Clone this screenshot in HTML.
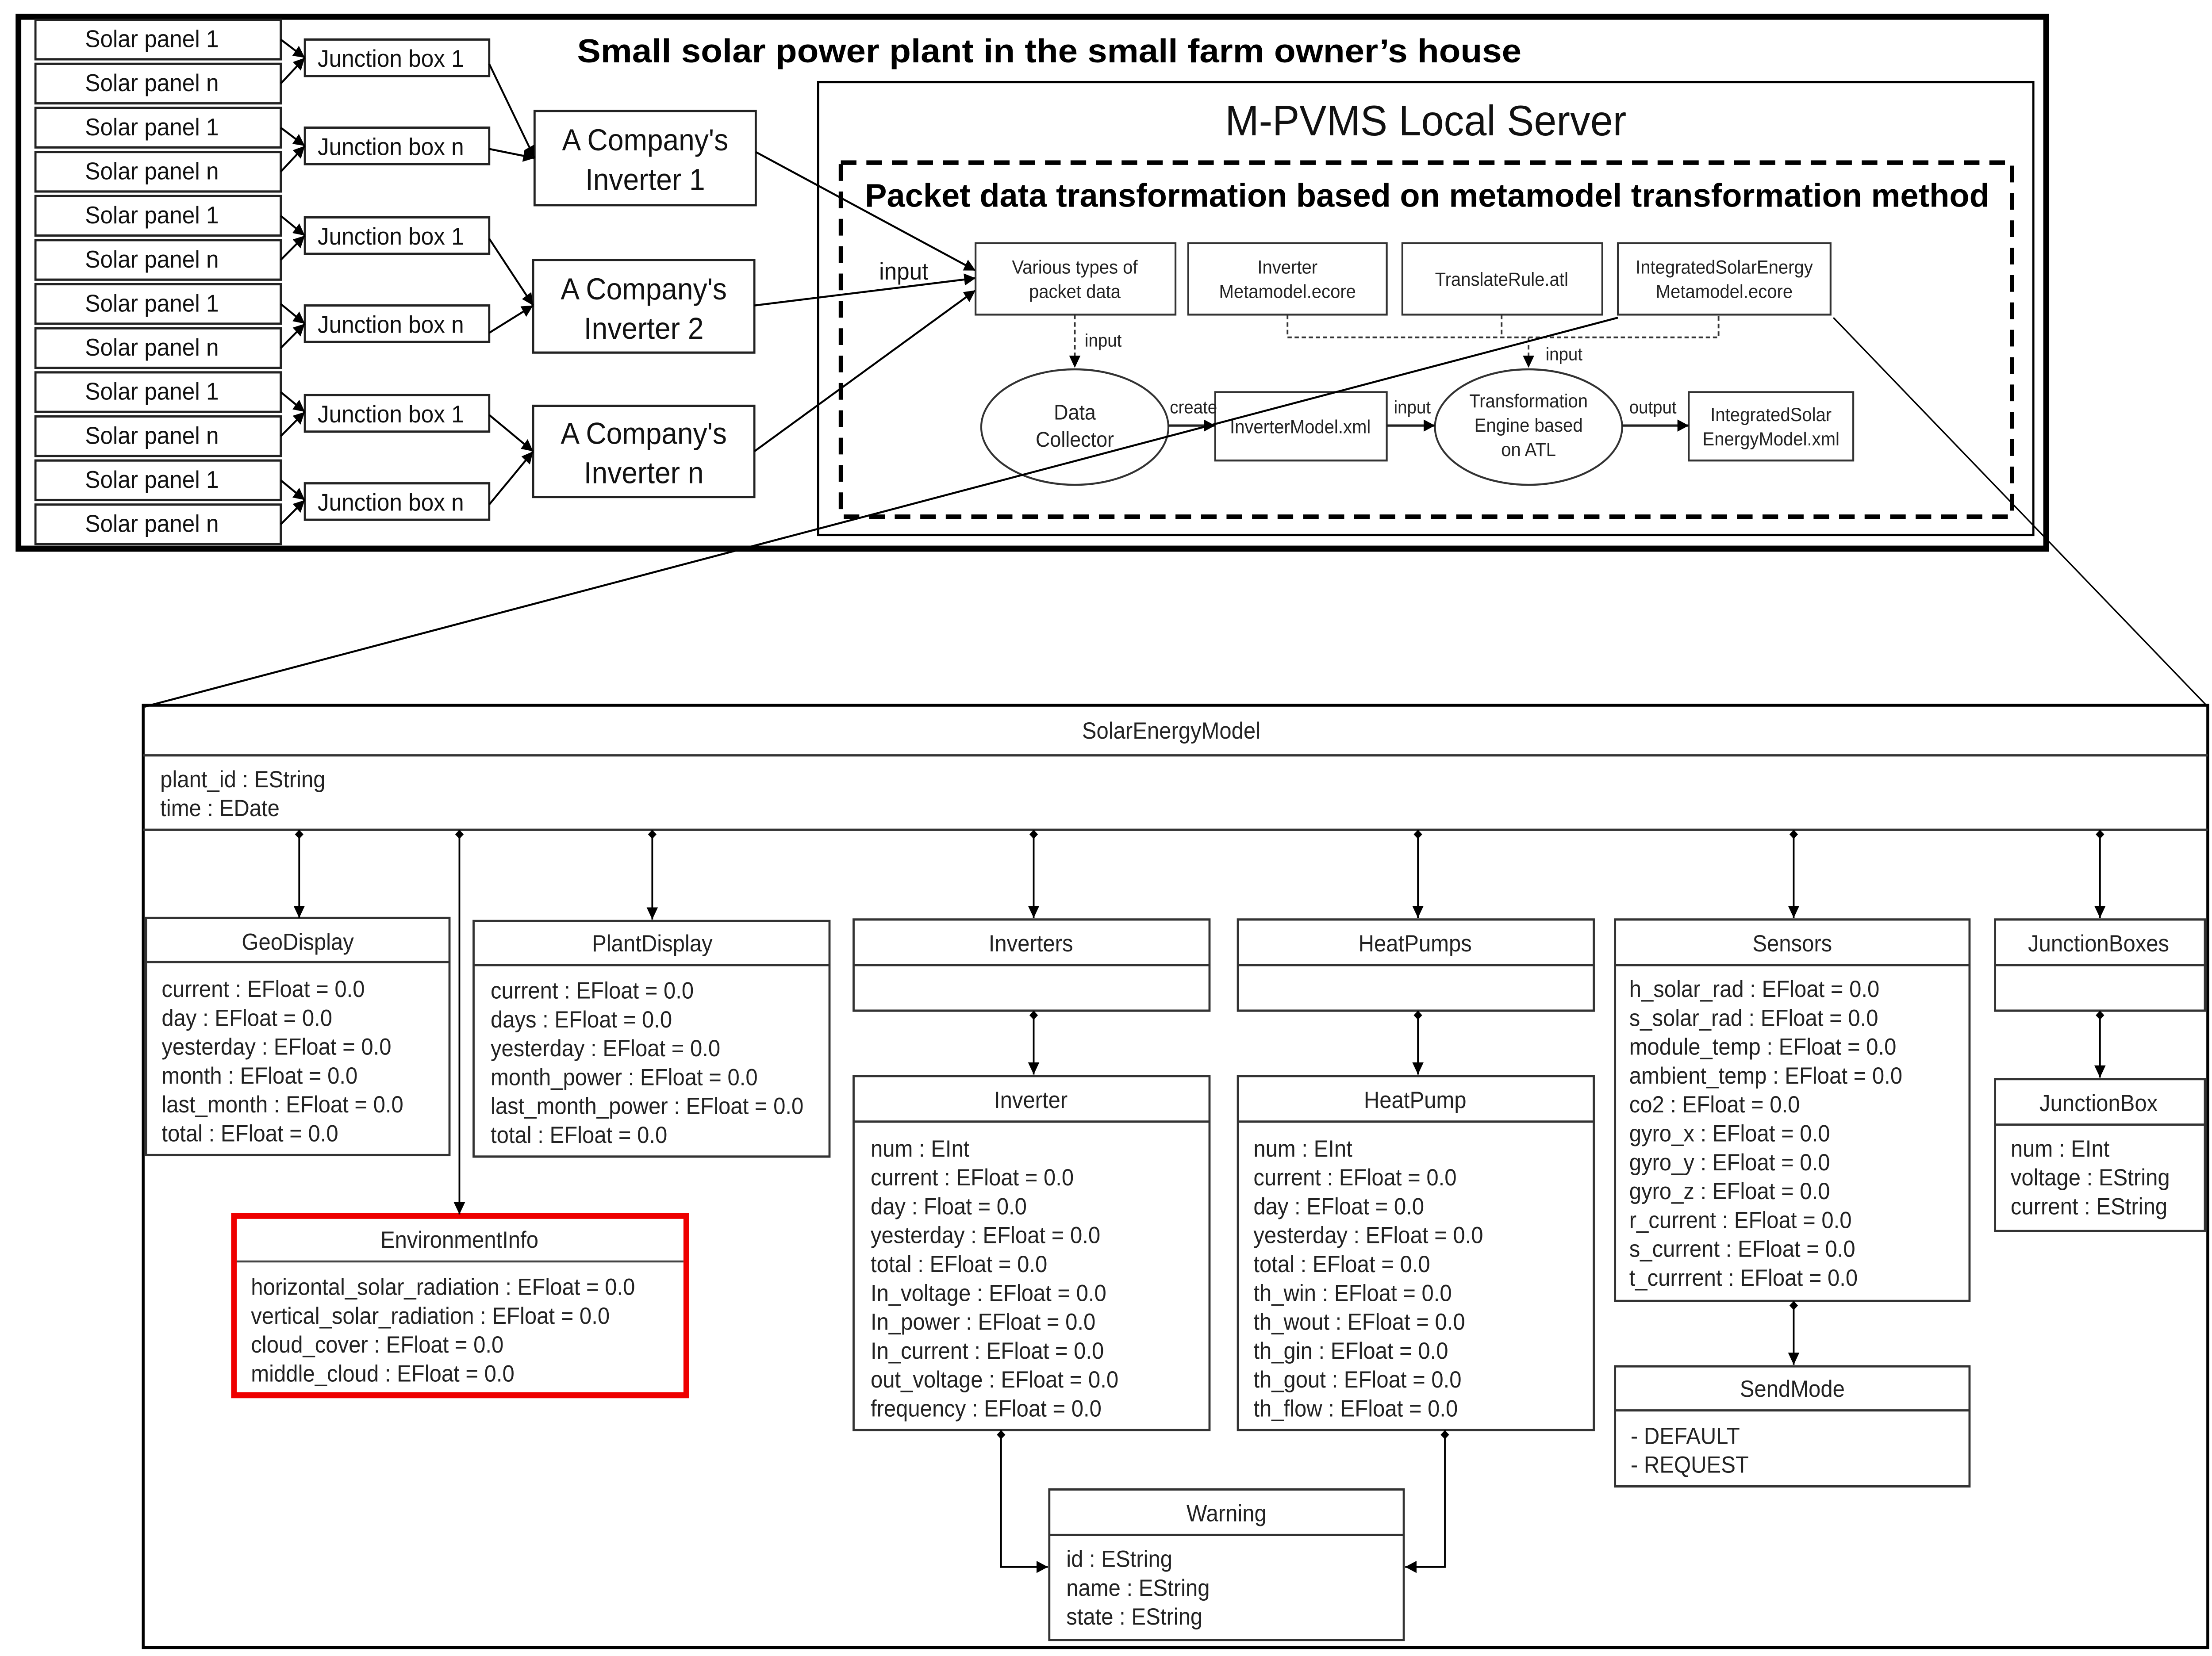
<!DOCTYPE html>
<html><head><meta charset="utf-8"><style>html,body{margin:0;padding:0;background:#fff;overflow:hidden;width:100vw;height:100vh}svg{display:block;width:100vw;height:100vh}</style></head>
<body>
<svg xmlns="http://www.w3.org/2000/svg" viewBox="0 0 1560 1089.6" preserveAspectRatio="none" font-family="Liberation Sans, sans-serif">
<defs>
<marker id="a" viewBox="0 0 10 10" refX="10" refY="5" markerWidth="8" markerHeight="8" orient="auto" markerUnits="userSpaceOnUse"><path d="M0,0L10,5L0,10z" fill="#000"/></marker>
<marker id="d" viewBox="0 0 10 10" refX="0" refY="5" markerWidth="6" markerHeight="10" orient="auto" markerUnits="userSpaceOnUse"><path d="M0,5L5,0L10,5L5,10z" fill="#000"/></marker>
</defs>
<rect x="0" y="0" width="1560" height="1090" fill="#fff"/>
<rect x="13" y="11" width="1430" height="350" fill="none" stroke="#000" stroke-width="4"/>
<g fill="#fff" stroke="#222" stroke-width="1.5">
<rect x="25" y="13" width="173" height="26"/><rect x="25" y="42" width="173" height="26"/>
<rect x="25" y="71" width="173" height="26"/><rect x="25" y="100" width="173" height="26"/>
<rect x="25" y="129" width="173" height="26"/><rect x="25" y="158" width="173" height="26"/>
<rect x="25" y="187" width="173" height="26"/><rect x="25" y="216" width="173" height="26"/>
<rect x="25" y="245" width="173" height="26"/><rect x="25" y="274" width="173" height="26"/>
<rect x="25" y="303" width="173" height="26"/><rect x="25" y="332" width="173" height="26"/>
<rect x="215" y="26" width="130" height="24"/><rect x="215" y="84" width="130" height="24"/>
<rect x="215" y="143" width="130" height="24"/><rect x="215" y="201" width="130" height="24"/>
<rect x="215" y="260" width="130" height="24"/><rect x="215" y="318" width="130" height="24"/>
<rect x="377" y="73" width="156" height="62"/><rect x="376" y="171" width="156" height="61"/><rect x="376" y="267" width="156" height="60"/>
</g>
<g font-size="16" fill="#111">
<text x="60" y="31">Solar panel 1</text><text x="60" y="60">Solar panel n</text>
<text x="60" y="89">Solar panel 1</text><text x="60" y="118">Solar panel n</text>
<text x="60" y="147">Solar panel 1</text><text x="60" y="176">Solar panel n</text>
<text x="60" y="205">Solar panel 1</text><text x="60" y="234">Solar panel n</text>
<text x="60" y="263">Solar panel 1</text><text x="60" y="292">Solar panel n</text>
<text x="60" y="321">Solar panel 1</text><text x="60" y="350">Solar panel n</text>
<text x="224" y="44">Junction box 1</text><text x="224" y="102">Junction box n</text>
<text x="224" y="161">Junction box 1</text><text x="224" y="219">Junction box n</text>
<text x="224" y="278">Junction box 1</text><text x="224" y="336">Junction box n</text>
</g>
<g font-size="20" fill="#111" text-anchor="middle">
<text x="455" y="99">A Company's</text><text x="455" y="125">Inverter  1</text>
<text x="454" y="197">A Company's</text><text x="454" y="223">Inverter  2</text>
<text x="454" y="292">A Company's</text><text x="454" y="318">Inverter  n</text>
</g>
<g stroke="#000" stroke-width="1.3" marker-end="url(#a)">
<line x1="198" y1="26" x2="215" y2="38"/><line x1="198" y1="55" x2="215" y2="38"/>
<line x1="198" y1="84" x2="215" y2="96"/><line x1="198" y1="113" x2="215" y2="96"/>
<line x1="198" y1="142" x2="215" y2="155"/><line x1="198" y1="171" x2="215" y2="155"/>
<line x1="198" y1="200" x2="215" y2="213"/><line x1="198" y1="229" x2="215" y2="213"/>
<line x1="198" y1="258" x2="215" y2="271"/><line x1="198" y1="287" x2="215" y2="271"/>
<line x1="198" y1="316" x2="215" y2="329"/><line x1="198" y1="345" x2="215" y2="329"/>
<line x1="345" y1="42" x2="377" y2="104"/><line x1="345" y1="98" x2="377" y2="104"/>
<line x1="345" y1="157" x2="376" y2="201"/><line x1="345" y1="219" x2="376" y2="201"/>
<line x1="345" y1="273" x2="376" y2="297"/><line x1="345" y1="332" x2="376" y2="297"/>
<line x1="533" y1="100" x2="688" y2="178"/><line x1="532" y1="201" x2="688" y2="183"/><line x1="532" y1="297" x2="688" y2="191"/>
</g>
<text x="407" y="41" font-size="22" font-weight="bold" fill="#000" textLength="666" lengthAdjust="spacingAndGlyphs">Small solar power plant in the small farm owner’s house</text>
<rect x="577" y="54" width="857" height="298" fill="none" stroke="#000" stroke-width="1.5"/>
<text x="864" y="89" font-size="28" fill="#111" textLength="283" lengthAdjust="spacingAndGlyphs">M-PVMS Local Server</text>
<rect x="593" y="107" width="826" height="233" fill="none" stroke="#000" stroke-width="3" stroke-dasharray="11,7"/>
<text x="610" y="136" font-size="21.5" font-weight="bold" fill="#000" textLength="793" lengthAdjust="spacingAndGlyphs">Packet data transformation based on metamodel transformation method</text>
<text x="620" y="184" font-size="16" fill="#111">input</text>
<g fill="#fff" stroke="#333" stroke-width="1.3">
<rect x="688" y="160" width="141" height="47"/><rect x="838" y="160" width="140" height="47"/>
<rect x="989" y="160" width="141" height="47"/><rect x="1141" y="160" width="150" height="47"/>
<ellipse cx="758" cy="281" rx="66" ry="38"/><rect x="857" y="258" width="121" height="45"/>
<ellipse cx="1078" cy="281" rx="66" ry="38"/><rect x="1191" y="258" width="116" height="45"/>
</g>
<g font-size="12.5" fill="#222" text-anchor="middle">
<text x="758" y="180">Various types of</text><text x="758" y="196">packet data</text>
<text x="908" y="180">Inverter</text><text x="908" y="196">Metamodel.ecore</text>
<text x="1059" y="188">TranslateRule.atl</text>
<text x="1216" y="180">IntegratedSolarEnergy</text><text x="1216" y="196">Metamodel.ecore</text>
<text x="758" y="276" font-size="14">Data</text><text x="758" y="294" font-size="14">Collector</text>
<text x="917" y="285">InverterModel.xml</text>
<text x="1078" y="268">Transformation</text><text x="1078" y="284">Engine based</text><text x="1078" y="300">on ATL</text>
<text x="1249" y="277">IntegratedSolar</text><text x="1249" y="293">EnergyModel.xml</text>
</g>
<g font-size="12" fill="#222">
<text x="765" y="228">input</text><text x="1090" y="237">input</text>
<text x="825" y="272">create</text><text x="983" y="272">input</text><text x="1149" y="272">output</text>
</g>
<g stroke="#333" stroke-width="1.2" fill="none" stroke-dasharray="3,2">
<line x1="758" y1="207" x2="758" y2="242" marker-end="url(#a)"/>
<polyline points="908,207 908,222 1212,222 1212,207"/>
<line x1="1059" y1="207" x2="1059" y2="222"/>
<line x1="1078" y1="222" x2="1078" y2="242" marker-end="url(#a)"/>
</g>
<g stroke="#222" stroke-width="1.5" marker-end="url(#a)">
<line x1="824" y1="280" x2="857" y2="280"/><line x1="978" y1="280" x2="1012" y2="280"/><line x1="1144" y1="280" x2="1191" y2="280"/>
</g>
<line x1="1141" y1="209" x2="102" y2="465" stroke="#000" stroke-width="1.3"/>
<line x1="1293" y1="209" x2="1557" y2="465" stroke="#000" stroke-width="1"/>
<rect x="101" y="464" width="1456" height="620" fill="none" stroke="#000" stroke-width="2"/>
<g fill="none" stroke="#333" stroke-width="1.5">
<line x1="101" y1="497" x2="1557" y2="497"/><line x1="101" y1="546" x2="1557" y2="546"/>
<rect x="103" y="604" width="214" height="156"/><line x1="103" y1="633" x2="317" y2="633"/>
<rect x="334" y="606" width="251" height="155"/><line x1="334" y1="635" x2="585" y2="635"/>
<rect x="602" y="605" width="251" height="60"/><line x1="602" y1="635" x2="853" y2="635"/>
<rect x="873" y="605" width="251" height="60"/><line x1="873" y1="635" x2="1124" y2="635"/>
<rect x="1139" y="605" width="250" height="251"/><line x1="1139" y1="635" x2="1389" y2="635"/>
<rect x="1407" y="605" width="148" height="60"/><line x1="1407" y1="635" x2="1555" y2="635"/>
<rect x="602" y="708" width="251" height="233"/><line x1="602" y1="738" x2="853" y2="738"/>
<rect x="873" y="708" width="251" height="233"/><line x1="873" y1="738" x2="1124" y2="738"/>
<rect x="1407" y="710" width="148" height="100"/><line x1="1407" y1="740" x2="1555" y2="740"/>
<rect x="1139" y="899" width="250" height="79"/><line x1="1139" y1="928" x2="1389" y2="928"/>
<rect x="740" y="980" width="250" height="99"/><line x1="740" y1="1010" x2="990" y2="1010"/>
</g>
<rect x="165" y="800" width="319" height="118" fill="none" stroke="#e00" stroke-width="4"/>
<line x1="167" y1="830" x2="482" y2="830" stroke="#444" stroke-width="1.3"/>
<g stroke="#000" stroke-width="1.2" fill="none" marker-start="url(#d)" marker-end="url(#a)">
<line x1="211" y1="546" x2="211" y2="604"/><line x1="324" y1="546" x2="324" y2="799"/>
<line x1="460" y1="546" x2="460" y2="605"/><line x1="729" y1="546" x2="729" y2="604"/>
<line x1="1000" y1="546" x2="1000" y2="604"/><line x1="1265" y1="546" x2="1265" y2="604"/>
<line x1="1481" y1="546" x2="1481" y2="604"/>
<line x1="729" y1="665" x2="729" y2="707"/><line x1="1000" y1="665" x2="1000" y2="707"/>
<line x1="1481" y1="665" x2="1481" y2="709"/><line x1="1265" y1="856" x2="1265" y2="898"/>
<polyline points="706,941 706,1031 739,1031"/><polyline points="1019,941 1019,1031 991,1031"/>
</g>
<g font-size="15.3" fill="#222">
<text x="826" y="486" text-anchor="middle">SolarEnergyModel</text>
<text x="113" y="518">plant_id : EString</text><text x="113" y="537">time : EDate</text>
<g text-anchor="middle">
<text x="210" y="625">GeoDisplay</text><text x="460" y="626">PlantDisplay</text>
<text x="727" y="626">Inverters</text><text x="998" y="626">HeatPumps</text>
<text x="1264" y="626">Sensors</text><text x="1480" y="626">JunctionBoxes</text>
<text x="727" y="729">Inverter</text><text x="998" y="729">HeatPump</text>
<text x="1480" y="731">JunctionBox</text><text x="1264" y="919">SendMode</text>
<text x="865" y="1001">Warning</text><text x="324" y="821">EnvironmentInfo</text>
</g>
<text x="114" y="656">current : EFloat = 0.0</text><text x="114" y="675">day : EFloat = 0.0</text>
<text x="114" y="694">yesterday : EFloat = 0.0</text><text x="114" y="713">month : EFloat = 0.0</text>
<text x="114" y="732">last_month : EFloat = 0.0</text><text x="114" y="751">total : EFloat = 0.0</text>
<text x="346" y="657">current : EFloat = 0.0</text><text x="346" y="676">days : EFloat = 0.0</text>
<text x="346" y="695">yesterday : EFloat = 0.0</text><text x="346" y="714">month_power : EFloat = 0.0</text>
<text x="346" y="733">last_month_power : EFloat = 0.0</text><text x="346" y="752">total : EFloat = 0.0</text>
<text x="614" y="761">num : EInt</text><text x="614" y="780">current : EFloat = 0.0</text>
<text x="614" y="799">day : Float = 0.0</text><text x="614" y="818">yesterday : EFloat = 0.0</text>
<text x="614" y="837">total : EFloat = 0.0</text><text x="614" y="856">In_voltage : EFloat = 0.0</text>
<text x="614" y="875">In_power : EFloat = 0.0</text><text x="614" y="894">In_current : EFloat = 0.0</text>
<text x="614" y="913">out_voltage : EFloat = 0.0</text><text x="614" y="932">frequency : EFloat = 0.0</text>
<text x="884" y="761">num : EInt</text><text x="884" y="780">current : EFloat = 0.0</text>
<text x="884" y="799">day : EFloat = 0.0</text><text x="884" y="818">yesterday : EFloat = 0.0</text>
<text x="884" y="837">total : EFloat = 0.0</text><text x="884" y="856">th_win : EFloat = 0.0</text>
<text x="884" y="875">th_wout : EFloat = 0.0</text><text x="884" y="894">th_gin : EFloat = 0.0</text>
<text x="884" y="913">th_gout : EFloat = 0.0</text><text x="884" y="932">th_flow : EFloat = 0.0</text>
<text x="1149" y="656">h_solar_rad : EFloat = 0.0</text><text x="1149" y="675">s_solar_rad : EFloat = 0.0</text>
<text x="1149" y="694">module_temp : EFloat = 0.0</text><text x="1149" y="713">ambient_temp : EFloat = 0.0</text>
<text x="1149" y="732">co2 : EFloat = 0.0</text><text x="1149" y="751">gyro_x : EFloat = 0.0</text>
<text x="1149" y="770">gyro_y : EFloat = 0.0</text><text x="1149" y="789">gyro_z : EFloat = 0.0</text>
<text x="1149" y="808">r_current : EFloat = 0.0</text><text x="1149" y="827">s_current : EFloat = 0.0</text>
<text x="1149" y="846">t_currrent : EFloat = 0.0</text>
<text x="1418" y="761">num : EInt</text><text x="1418" y="780">voltage : EString</text><text x="1418" y="799">current : EString</text>
<text x="1150" y="950">-   DEFAULT</text><text x="1150" y="969">-   REQUEST</text>
<text x="752" y="1031">id : EString</text><text x="752" y="1050">name : EString</text><text x="752" y="1069">state : EString</text>
<text x="177" y="852">horizontal_solar_radiation : EFloat = 0.0</text><text x="177" y="871">vertical_solar_radiation : EFloat = 0.0</text>
<text x="177" y="890">cloud_cover : EFloat = 0.0</text><text x="177" y="909">middle_cloud : EFloat = 0.0</text>
</g>
</svg>
</body></html>
